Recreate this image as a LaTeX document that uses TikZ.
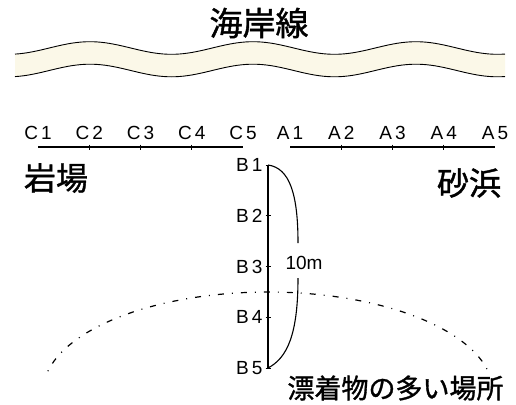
\documentclass[tikz,border=0pt]{standalone}
\usepackage{fontspec}
\setmainfont{Liberation Sans}
\newfontfamily\jpfont{Noto Sans CJK JP}[FakeBold = 1.2]
\usetikzlibrary{positioning,calc}
\definecolor{shorecream}{RGB}{251,248,232}

\tikzset{
	lbl/.style = {inner sep = 0pt, font = \fontsize{19}{19}\selectfont},
	jplbl/.style = {inner sep = 0pt, font = \jpfont\fontsize{32}{32}\selectfont},
	tickmark/.style = {line width = 0.9pt},
	measure/.style = {line width = 1.8pt},
	debris/.style = {line width = 1.2pt, dash pattern = on 1pt off 8pt on 6pt off 8pt}
}

\begin{document}
\begin{tikzpicture}[x = 1pt, y = -1pt, line width = 1.1pt]
\def\s{51.25}
\useasboundingbox (0, 0) rectangle (516, 404);

% coastline
\node [jplbl, font = \jpfont\fontsize{33}{33}\selectfont] (coast) at (259, 23) {海岸線};
\fill [shorecream] plot[domain = 15:505, samples = 120] (\x, {48-6.3*cos((\x-90)/163*360)})
	-- plot[domain = 505:15, samples = 120] (\x, {70.5-6.3*cos((\x-90)/163*360)}) -- cycle;
\draw [line width = 0.9pt] plot[domain = 15:505, samples = 120] (\x, {48-6.3*cos((\x-90)/163*360)});
\draw [line width = 0.9pt] plot[domain = 15:505, samples = 120] (\x, {70.5-6.3*cos((\x-90)/163*360)});

% line C (rocks)
\begin{scope}
	\coordinate (c1) at (38, 147);
	\coordinate (c2) at (38+\s, 147);
	\coordinate (c3) at (38+2*\s, 147);
	\coordinate (c4) at (38+3*\s, 147);
	\coordinate (c5) at (38+4*\s, 147);
	\draw [measure] (c1) -- (c5);
	\draw [tickmark] (c2) ++(0, -2.5) -- ++(0, 5);
	\draw [tickmark] (c3) ++(0, -2.5) -- ++(0, 5);
	\draw [tickmark] (c4) ++(0, -2.5) -- ++(0, 5);
	\node [lbl, above = 7pt of c1] (c1l) {C\,1};
	\node [lbl, above = 7pt of c2] (c2l) {C\,2};
	\node [lbl, above = 7pt of c3] (c3l) {C\,3};
	\node [lbl, above = 7pt of c4] (c4l) {C\,4};
	\node [lbl, above = 7pt of c5] (c5l) {C\,5};
	\node [jplbl] (rocks) at (56, 178) {岩場};
\end{scope}

% line A (sand)
\begin{scope}
	\coordinate (a1) at (290, 147);
	\coordinate (a2) at (290+\s, 147);
	\coordinate (a3) at (290+2*\s, 147);
	\coordinate (a4) at (290+3*\s, 147);
	\coordinate (a5) at (290+4*\s, 147);
	\draw [measure] (a1) -- (a5);
	\draw [tickmark] (a2) ++(0, -2.5) -- ++(0, 5);
	\draw [tickmark] (a3) ++(0, -2.5) -- ++(0, 5);
	\draw [tickmark] (a4) ++(0, -2.5) -- ++(0, 5);
	\node [lbl, above = 7pt of a1] (a1l) {A\,1};
	\node [lbl, above = 7pt of a2] (a2l) {A\,2};
	\node [lbl, above = 7pt of a3] (a3l) {A\,3};
	\node [lbl, above = 7pt of a4] (a4l) {A\,4};
	\node [lbl, above = 7pt of a5] (a5l) {A\,5};
	\node [jplbl] (sand) at (469, 183) {砂浜};
\end{scope}

% line B
\begin{scope}
	\def\t{50.75}
	\coordinate (b1) at (268, 165);
	\coordinate (b2) at (268, 165+\t);
	\coordinate (b3) at (268, 165+2*\t);
	\coordinate (b4) at (268, 165+3*\t);
	\coordinate (b5) at (268, 165+4*\t);
	\draw [measure] (b1) -- (b5);
	\draw [tickmark] (b1) ++(-2.5, 0) -- ++(5, 0);
	\draw [tickmark] (b2) ++(-2.5, 0) -- ++(5, 0);
	\draw [tickmark] (b3) ++(-2.5, 0) -- ++(5, 0);
	\draw [tickmark] (b4) ++(-2.5, 0) -- ++(5, 0);
	\draw [tickmark] (b5) ++(-2.5, 0) -- ++(5, 0);
	\node [lbl, left = 5pt of b1] (b1l) {B\,1};
	\node [lbl, left = 5pt of b2] (b2l) {B\,2};
	\node [lbl, left = 5pt of b3] (b3l) {B\,3};
	\node [lbl, left = 5pt of b4] (b4l) {B\,4};
	\node [lbl, left = 5pt of b5] (b5l) {B\,5};

	\coordinate (bend1) at (298, 243);
	\coordinate (bend2) at (298, 278);
	\draw (b1) .. controls (290, 168) and (298, 195) .. (bend1);
	\draw (bend2) .. controls (298, 335) and (287, 358) .. (b5);
	\node [lbl] (len) at (304, 263) {10m};
\end{scope}

% debris zone
\draw [debris] plot[domain = 168:12, samples = 80] ({268+225*cos(\x)}, {392-100*sin(\x)});
\node [jplbl, font = \jpfont\fontsize{27}{27}\selectfont] (debrisl) at (395.5, 388) {漂着物の多い場所};

\end{tikzpicture}
\end{document}
